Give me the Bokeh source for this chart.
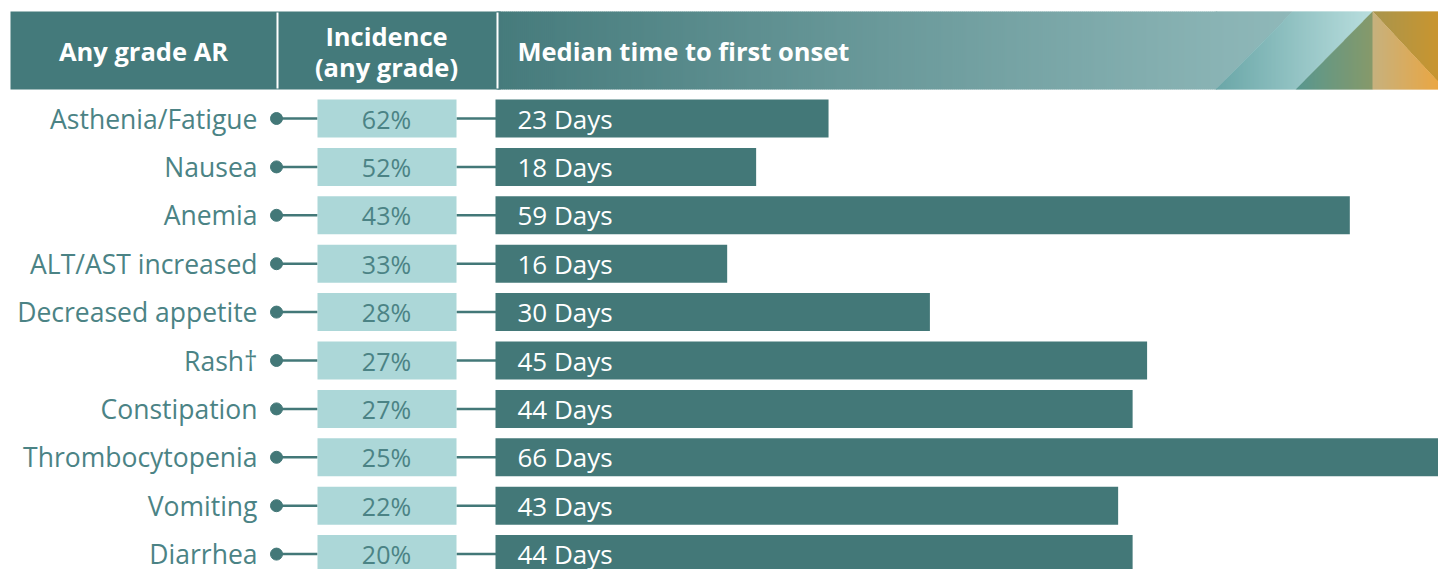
from bokeh.plotting import figure
from bokeh.models import Range1d
from bokeh.core.properties import value
from bokeh.embed import file_html
from bokeh.resources import INLINE

# ---------------- data ----------------
categories = ["Asthenia/Fatigue", "Nausea", "Anemia", "ALT/AST increased",
              "Decreased appetite", "Rash\u2020", "Constipation", "Thrombocytopenia",
              "Vomiting", "Diarrhea"]
incidence = [62, 52, 43, 33, 28, 27, 27, 25, 22, 20]
median_days = [23, 18, 59, 16, 30, 45, 44, 66, 43, 44]
header_labels = ["Any grade AR", "Incidence", "(any grade)", "Median time to first onset"]

# ---------------- styling / layout ----------------
W, H = 1438, 569
DARK = "#437878"
LIGHT = "#acd7d8"
TXT = "#4b8385"
FONT = value("Open Sans")

row_px = 48.4
row0_px = 118.0
bar_start_px = 495.0
px_per_day = 14.48

p = figure(width=W, height=H, output_backend="svg", toolbar_location=None,
           x_range=Range1d(0, W), y_range=Range1d(H, 0), min_border=0)
p.axis.visible = False
p.grid.visible = False
p.outline_line_color = None
p.background_fill_color = "white"
p.border_fill_color = "white"

p.extra_x_ranges = {"days": Range1d(-bar_start_px / px_per_day, (W - bar_start_px) / px_per_day)}
p.extra_y_ranges = {"rows": Range1d((H - row0_px) / row_px, -row0_px / row_px)}


def hex2rgb(h):
    h = h.lstrip("#")
    return [int(h[i:i + 2], 16) for i in (0, 2, 4)]


def lerp(c0, c1, t):
    a, b = hex2rgb(c0), hex2rgb(c1)
    return "#%02x%02x%02x" % tuple(int(round(a[i] + (b[i] - a[i]) * t)) for i in range(3))


def strips(x0, x1, top_fn, bot_fn, c0, c1, step=2.0):
    xs, ys, cs = [], [], []
    x = x0
    while x < x1 - 1e-9:
        xe = min(x + step, x1)
        xs.append([x, xe + 0.6, xe + 0.6, x])
        ys.append([top_fn(x), top_fn(xe), bot_fn(xe), bot_fn(x)])
        cs.append(lerp(c0, c1, ((x + xe) / 2 - x0) / max(x1 - x0, 1)))
        x = xe
    p.patches(xs, ys, fill_color=cs, line_color=None)


# ---------------- header ----------------
HT, HB = 11.0, 89.0
p.quad(left=[10], right=[500], top=[HT], bottom=[HB], fill_color="#447a7b", line_color=None)
strips(496, 1216, lambda x: HT, lambda x: HB, "#467b7c", "#89b3b4")


def diag(xb, xt):
    # line from (xb, HB) to (xt, HT)
    return lambda x: HB + (HT - HB) * (x - xb) / (xt - xb)


d1 = diag(1215, 1292)
d2 = diag(1295, 1372)
strips(1215, 1292, lambda x: HT, lambda x: max(min(d1(x), HB), HT), "#89b3b4", "#8fb8b9", step=1.0)
strips(1215, 1372, lambda x: max(min(d1(x), HB), HT), lambda x: min(max(d2(x), HT), HB),
       "#6aa6a7", "#b9dede", step=1.0)
strips(1295, 1372, lambda x: max(d2(x), HT), lambda x: HB, "#58978f", "#86996a", step=1.0)
d3 = lambda x: HT + (x - 1372) * (82 - HT) / (1438 - 1372)
strips(1372, 1438, lambda x: HT, lambda x: d3(x), "#a8954e", "#c9952f", step=1.0)
strips(1372, 1438, lambda x: d3(x), lambda x: HB, "#c6b17e", "#eaa643", step=1.0)

# header dividers
p.segment(x0=[277, 497], y0=[12, 12], x1=[277, 497], y1=[88, 88], line_color="white", line_width=2)

hdr_style = dict(text_color="white", text_font=FONT, text_font_size="25.5px",
                 text_font_style="bold", text_baseline="middle")
p.text(x=[143], y=[50], text=[header_labels[0]], text_align="center", **hdr_style)
p.text(x=[386, 386], y=[35, 66], text=header_labels[1:3], text_align="center", **hdr_style)
p.text(x=[517], y=[50], text=[header_labels[3]], text_align="left", **hdr_style)

# ---------------- rows ----------------
rows = list(range(len(categories)))
box_h = 38.0 / row_px

p.segment(x0=[276] * len(rows), x1=[317] * len(rows), y0=rows, y1=rows,
          y_range_name="rows", line_color=DARK, line_width=2.5)
p.segment(x0=[456] * len(rows), x1=[496] * len(rows), y0=rows, y1=rows,
          y_range_name="rows", line_color=DARK, line_width=2.5)
p.scatter(x=[276] * len(rows), y=rows, y_range_name="rows", size=12,
          fill_color=DARK, line_color=DARK)

p.hbar(y=rows, left=317, right=456, height=box_h, y_range_name="rows",
       fill_color=LIGHT, line_color=None)
p.text(x=[386] * len(rows), y=rows, text=[f"{v}%" for v in incidence],
       y_range_name="rows", text_align="center", text_baseline="middle",
       text_color=TXT, text_font=FONT, text_font_size="25px")

p.hbar(y=rows, left=0, right=median_days, height=box_h, y_range_name="rows",
       x_range_name="days", fill_color=DARK, line_color=None)
p.text(x=[517] * len(rows), y=rows, text=[f"{d} Days" for d in median_days],
       y_range_name="rows", text_align="left", text_baseline="middle",
       text_color="white", text_font=FONT, text_font_size="26px")

p.text(x=[257] * len(rows), y=rows, text=categories, y_range_name="rows",
       text_align="right", text_baseline="middle", text_color=TXT,
       text_font=FONT, text_font_size="26.5px")

open("out.html", "w").write(file_html(p, INLINE))
